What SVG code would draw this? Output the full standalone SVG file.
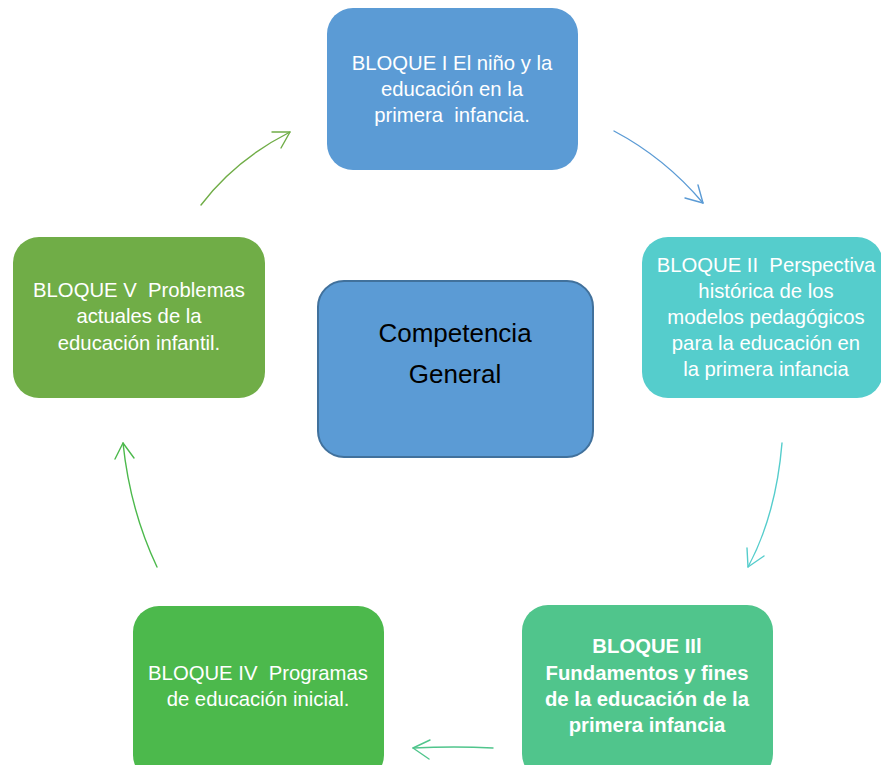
<svg xmlns="http://www.w3.org/2000/svg" width="881" height="765" viewBox="0 0 881 765">
<style>
.t{font-family:"Liberation Sans",Arial,sans-serif;font-size:20.3px;fill:#ffffff;text-anchor:middle}
.b{font-weight:bold}
.c{font-family:"Liberation Sans",Arial,sans-serif;font-size:26px;fill:#000000;text-anchor:middle}
.a{fill:none;stroke-width:1.4;stroke-linecap:round;stroke-linejoin:round}
</style>
<rect width="881" height="765" fill="#ffffff"/>
<g id="connectors">
<g stroke="#5B9BD5" class="a"><path class="a" d="M614,131 Q665,158 703,203"/><path class="a" d="M685,198 L703,203 L698,185"/></g>
<g stroke="#55CDCC" class="a"><path class="a" d="M782,443 Q776,515 748,567"/><path class="a" d="M747,548 L748,567 L764,556"/></g>
<g stroke="#50C58C" class="a"><path class="a" d="M493,748 Q455,746 413,748"/><path class="a" d="M430,740 L413,748 L429,759"/></g>
<g stroke="#4CB94C" class="a"><path class="a" d="M157,567 Q130,510 123,443"/><path class="a" d="M115,459 L123,443 L134,458"/></g>
<g stroke="#70AD47" class="a"><path class="a" d="M201,205 Q235,160 290,132"/><path class="a" d="M272,132 L290,132 L281,148"/></g>
</g>
<g id="bloque1">
<rect x="327" y="8" width="251" height="162" rx="26" fill="#5B9BD5"/>
<text class="t" x="452" y="70">BLOQUE I El niño y la</text>
<text class="t" x="452" y="96">educación en la</text>
<text class="t" x="452" y="122" xml:space="preserve">primera  infancia.</text>
</g>
<g id="bloque2">
<rect x="642" y="237" width="241" height="161" rx="26" fill="#55CDCC"/>
<text class="t" x="766" y="272" xml:space="preserve">BLOQUE II  Perspectiva</text>
<text class="t" x="766" y="298">histórica de los</text>
<text class="t" x="766" y="324">modelos pedagógicos</text>
<text class="t" x="766" y="350">para la educación en</text>
<text class="t" x="766" y="376">la primera infancia</text>
</g>
<g id="bloque3">
<rect x="522" y="605" width="251" height="175" rx="26" fill="#50C58C"/>
<text class="t b" x="647" y="653">BLOQUE IIl</text>
<text class="t b" x="647" y="680">Fundamentos y fines</text>
<text class="t b" x="647" y="706">de la educación de la</text>
<text class="t b" x="647" y="732">primera infancia</text>
</g>
<g id="bloque4">
<rect x="133" y="606" width="251" height="175" rx="26" fill="#4CB94C"/>
<text class="t" x="258" y="680" xml:space="preserve">BLOQUE IV  Programas</text>
<text class="t" x="258" y="706">de educación inicial.</text>
</g>
<g id="bloque5">
<rect x="13" y="237" width="252" height="161" rx="26" fill="#70AD47"/>
<text class="t" x="139" y="297" xml:space="preserve">BLOQUE V  Problemas</text>
<text class="t" x="139" y="323">actuales de la</text>
<text class="t" x="139" y="350">educación infantil.</text>
</g>
<g id="competencia">
<rect x="318" y="281" width="275" height="176" rx="26" fill="#5B9BD5" stroke="#41719C" stroke-width="2"/>
<text class="c" x="455" y="342">Competencia</text>
<text class="c" x="455" y="383">General</text>
</g>
</svg>
